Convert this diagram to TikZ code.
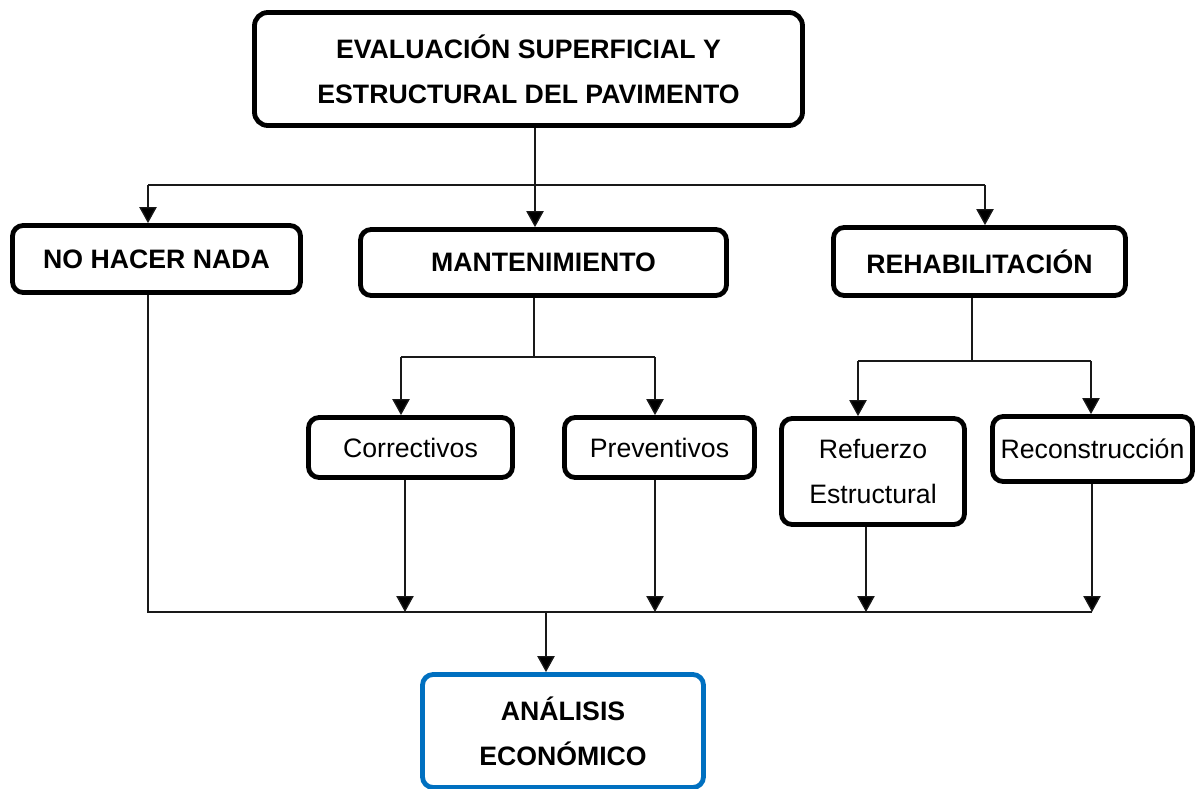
\documentclass[tikz,border=0pt]{standalone}
\usepackage{fontspec}
\setmainfont{Liberation Sans}
\usetikzlibrary{arrows.meta,calc}
\definecolor{boxblue}{RGB}{0,112,192}
\tikzset{
  box/.style={draw=black, line width=3.6pt, rounded corners=8pt, fill=white, align=center, inner sep=0pt,
    font=\fontsize{20}{33.75}\selectfont},
  boldbox/.style={box, font=\fontsize{20}{33.75}\selectfont\bfseries},
  conn/.style={draw=black!90, line width=1pt},
  arr/.style={conn, -{Triangle[width=13pt,length=12pt,fill=black]}},
}
\begin{document}
\begin{tikzpicture}[x=0.75pt,y=-0.75pt]
\useasboundingbox (0,0) rectangle (1197,789);
% nodes (size = centerline of border)
\node[boldbox, minimum width=548*0.75pt, minimum height=113*0.75pt, rounded corners=10pt] (top) at (528.5,69) {EVALUACIÓN SUPERFICIAL Y\\ESTRUCTURAL DEL PAVIMENTO};
\node[boldbox, minimum width=288*0.75pt, minimum height=67*0.75pt] (nada) at (156.5,259) {NO HACER NADA};
\node[boldbox, minimum width=366*0.75pt, minimum height=66*0.75pt] (mant) at (543.5,262.5) {MANTENIMIENTO};
\node[boldbox, minimum width=292*0.75pt, minimum height=68*0.75pt] (rehab) at (979.5,261.5) {REHABILITACIÓN};
\node[box, minimum width=204*0.75pt, minimum height=60*0.75pt] (corr) at (410.5,447.5) {Correctivos};
\node[box, minimum width=190*0.75pt, minimum height=60*0.75pt] (prev) at (659.5,447.5) {Preventivos};
\node[box, minimum width=183*0.75pt, minimum height=106*0.75pt] (ref) at (873,471.5) {Refuerzo\\Estructural};
\node[box, minimum width=200*0.75pt, minimum height=65*0.75pt] (recon) at (1092.5,449) {Reconstrucción};
\node[boldbox, draw=boxblue, minimum width=281*0.75pt, minimum height=113*0.75pt] (anal) at (563,731) {ANÁLISIS\\ECONÓMICO};
% helper coordinates
\coordinate (xa) at (535,128);
\coordinate (h1l) at (148,185);
\coordinate (h1r) at (985,185);
\coordinate (xm) at (534,0);
\coordinate (m2) at (534,357);
\coordinate (h2l) at (401,357);
\coordinate (h2r) at (655,357);
\coordinate (xr) at (972,0);
\coordinate (r2) at (972,360);
\coordinate (h3l) at (858,361);
\coordinate (h3r) at (1091,361);
\coordinate (bl) at (148,612);
\coordinate (br) at (1092,612);
\coordinate (xc) at (405,0);
\coordinate (xp) at (655,0);
\coordinate (xf) at (866,0);
\coordinate (xn) at (1092,0);
\coordinate (xe) at (546,613);
% connectors
\draw[arr] (top.south -| xa) -- (mant.north -| xa);
\draw[conn] (h1l) -- (h1r);
\draw[arr] (h1l) -- (h1l |- nada.north);
\draw[arr] (h1r) -- (h1r |- rehab.north);
\draw[conn] (mant.south -| xm) -- (m2);
\draw[conn] (h2l) -- (h2r);
\draw[arr] (h2l) -- (h2l |- corr.north);
\draw[arr] (h2r) -- (h2r |- prev.north);
\draw[conn] (rehab.south -| xr) -- (r2);
\draw[conn] (h3l) -- (h3r);
\draw[arr] (h3l) -- (h3l |- ref.north);
\draw[arr] (h3r) -- (h3r |- recon.north);
\draw[conn] (nada.south -| bl) -- (bl) -- (br);
\draw[arr] (corr.south -| xc) -- (xc |- bl);
\draw[arr] (prev.south -| xp) -- (xp |- bl);
\draw[arr] (ref.south -| xf) -- (xf |- bl);
\draw[arr] (recon.south -| xn) -- (xn |- bl);
\draw[arr] (xe) -- (xe |- anal.north);
\end{tikzpicture}
\end{document}
